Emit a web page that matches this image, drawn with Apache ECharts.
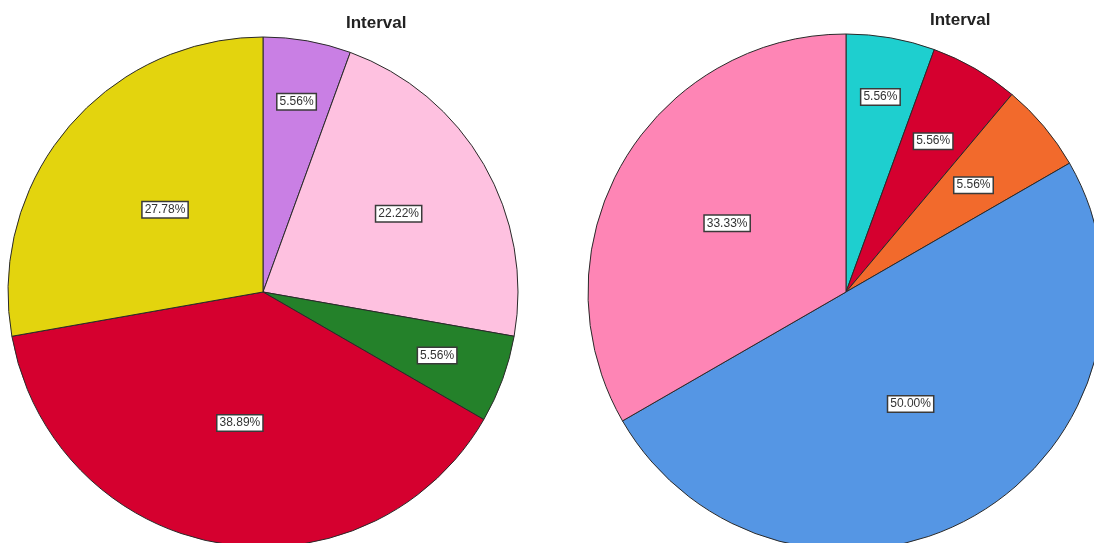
<!DOCTYPE html>
<html><head><meta charset="utf-8">
<script src="https://cdn.jsdelivr.net/npm/echarts@6/dist/echarts.min.js"></script>
<style>html,body{margin:0;padding:0;background:#fff;}#c{width:1094px;height:543px;}</style>
</head><body><div id="c"></div>
<script>
var titleText = 'Interval';
var leftCategories = ['A', 'B', 'C', 'D', 'E'];
var leftValues = [5.56, 22.22, 5.56, 38.89, 27.78];
var rightCategories = ['A', 'B', 'C', 'D', 'E'];
var rightValues = [5.56, 5.56, 5.56, 50.00, 33.33];

var leftColors = ['#c97fe4', '#fec1e0', '#24812a', '#d5002f', '#e3d40e'];
var rightColors = ['#1ecfcf', '#d5002f', '#f26a2c', '#5596e4', '#fe85b5'];
// label distance from centre, as a fraction of the radius (style)
var leftLabelRadius = [0.74, 0.60, 0.71, 0.51, 0.49];
var rightLabelRadius = [0.75, 0.66, 0.63, 0.49, 0.52];

var chart = echarts.init(document.getElementById('c'), null, {renderer: 'canvas'});

function mkSeries(cats, vals, colors, lr, cx, cy, r) {
  return {
    type: 'pie',
    center: [cx, cy],
    radius: r,
    startAngle: 90,
    clockwise: true,
    animation: false,
    silent: true,
    data: cats.map(function (c, i) {
      return {name: c, value: vals[i], itemStyle: {color: colors[i]}};
    }),
    itemStyle: {borderColor: '#2a2a2a', borderWidth: 1},
    label: {
      show: true,
      position: 'inside',
      formatter: function (p) { return p.value.toFixed(2) + '%'; },
      fontFamily: 'Liberation Sans, Arial, sans-serif',
      fontSize: 12,
      color: '#333',
      backgroundColor: '#fff',
      borderColor: '#3a3a3a',
      borderWidth: 1.5,
      padding: [2, 2, 1, 2]
    },
    labelLine: {show: false},
    labelLayout: function (p) {
      var rc = p.labelRect;
      var lx = rc.x + rc.width / 2, ly = rc.y + rc.height / 2;
      var vx = lx - cx, vy = ly - cy;
      var k = lr[p.dataIndex] / 0.5 - 1;
      return {dx: vx * k, dy: vy * k};
    }
  };
}

var titleStyle = {fontFamily: 'Liberation Sans, Arial, sans-serif', fontSize: 17, fontWeight: 'bold', color: '#222'};
chart.setOption({
  backgroundColor: '#fff',
  title: [
    {text: titleText, left: 341, top: 10, textStyle: titleStyle},
    {text: titleText, left: 925, top: 7, textStyle: titleStyle}
  ],
  series: [
    mkSeries(leftCategories, leftValues, leftColors, leftLabelRadius, 263, 292, 255),
    mkSeries(rightCategories, rightValues, rightColors, rightLabelRadius, 846, 292, 258)
  ]
});
</script>
</body></html>
